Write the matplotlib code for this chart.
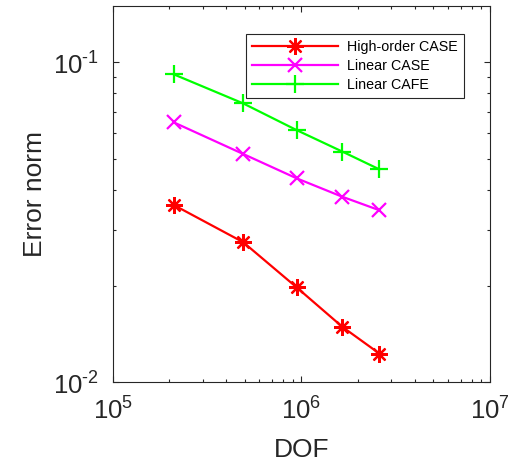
import matplotlib
matplotlib.use('Agg')
import matplotlib.pyplot as plt
from matplotlib.ticker import FuncFormatter
import numpy as np

# degrees of freedom for each mesh
dof = [2.11e5, 4.92e5, 9.44e5, 1.65e6, 2.59e6]

# error norms
err_high_case = [0.0358, 0.0274, 0.0198, 0.0149, 0.0123]
err_lin_case = [0.0649, 0.0517, 0.0434, 0.0380, 0.0345]
err_lin_cafe = [0.0917, 0.0744, 0.0614, 0.0526, 0.0463]

labels = ['High-order CASE', 'Linear CASE', 'Linear CAFE']

plt.rcParams['font.family'] = ['Liberation Sans', 'DejaVu Sans']
plt.rcParams['mathtext.fontset'] = 'custom'
plt.rcParams['mathtext.rm'] = 'Liberation Sans'

fig = plt.figure(figsize=(5.09, 4.69), dpi=100)
ax = fig.add_axes([0.2214, 0.1849, 0.7413, 0.8023])

ax.loglog(dof, err_high_case, color='red', lw=1.6, marker=(8, 2, 0),
          ms=12, mew=1.6, label=labels[0])
ax.loglog(dof, err_lin_case, color='magenta', lw=1.6, marker='x',
          ms=10, mew=1.6, label=labels[1])
ax.loglog(dof, err_lin_cafe, color='lime', lw=1.6, marker='+',
          ms=13, mew=1.6, label=labels[2])

ax.set_xlim(1e5, 1e7)
ax.set_ylim(1e-2, 0.15)


def pow10(v, pos):
    e = int(round(np.log10(v)))
    if e < 0:
        return r'$10^{\text{-}%d}$' % (-e)
    return r'$10^{%d}$' % e


ax.xaxis.set_major_formatter(FuncFormatter(pow10))
ax.yaxis.set_major_formatter(FuncFormatter(pow10))

ax.set_xlabel('DOF', fontsize=19, color='#262626', labelpad=10)
ax.set_ylabel('Error norm', fontsize=19, color='#262626', labelpad=4)

ax.tick_params(which='both', direction='in', top=True, right=True,
               colors='#262626', labelsize=18.5)
ax.tick_params(which='major', length=4, width=0.8, pad=10)
ax.tick_params(which='minor', length=2.5, width=0.8)
for s in ax.spines.values():
    s.set_color('#262626')
    s.set_linewidth(0.8)

leg = ax.legend(loc='upper right', bbox_to_anchor=(0.931, 0.9256),
                fontsize=10.3, handlelength=6.0, borderaxespad=0,
                fancybox=False, framealpha=1, edgecolor='#262626',
                borderpad=0.45, labelspacing=0.33, handletextpad=0.6)
leg.get_frame().set_linewidth(0.8)

fig.savefig('out.png', dpi=100)
